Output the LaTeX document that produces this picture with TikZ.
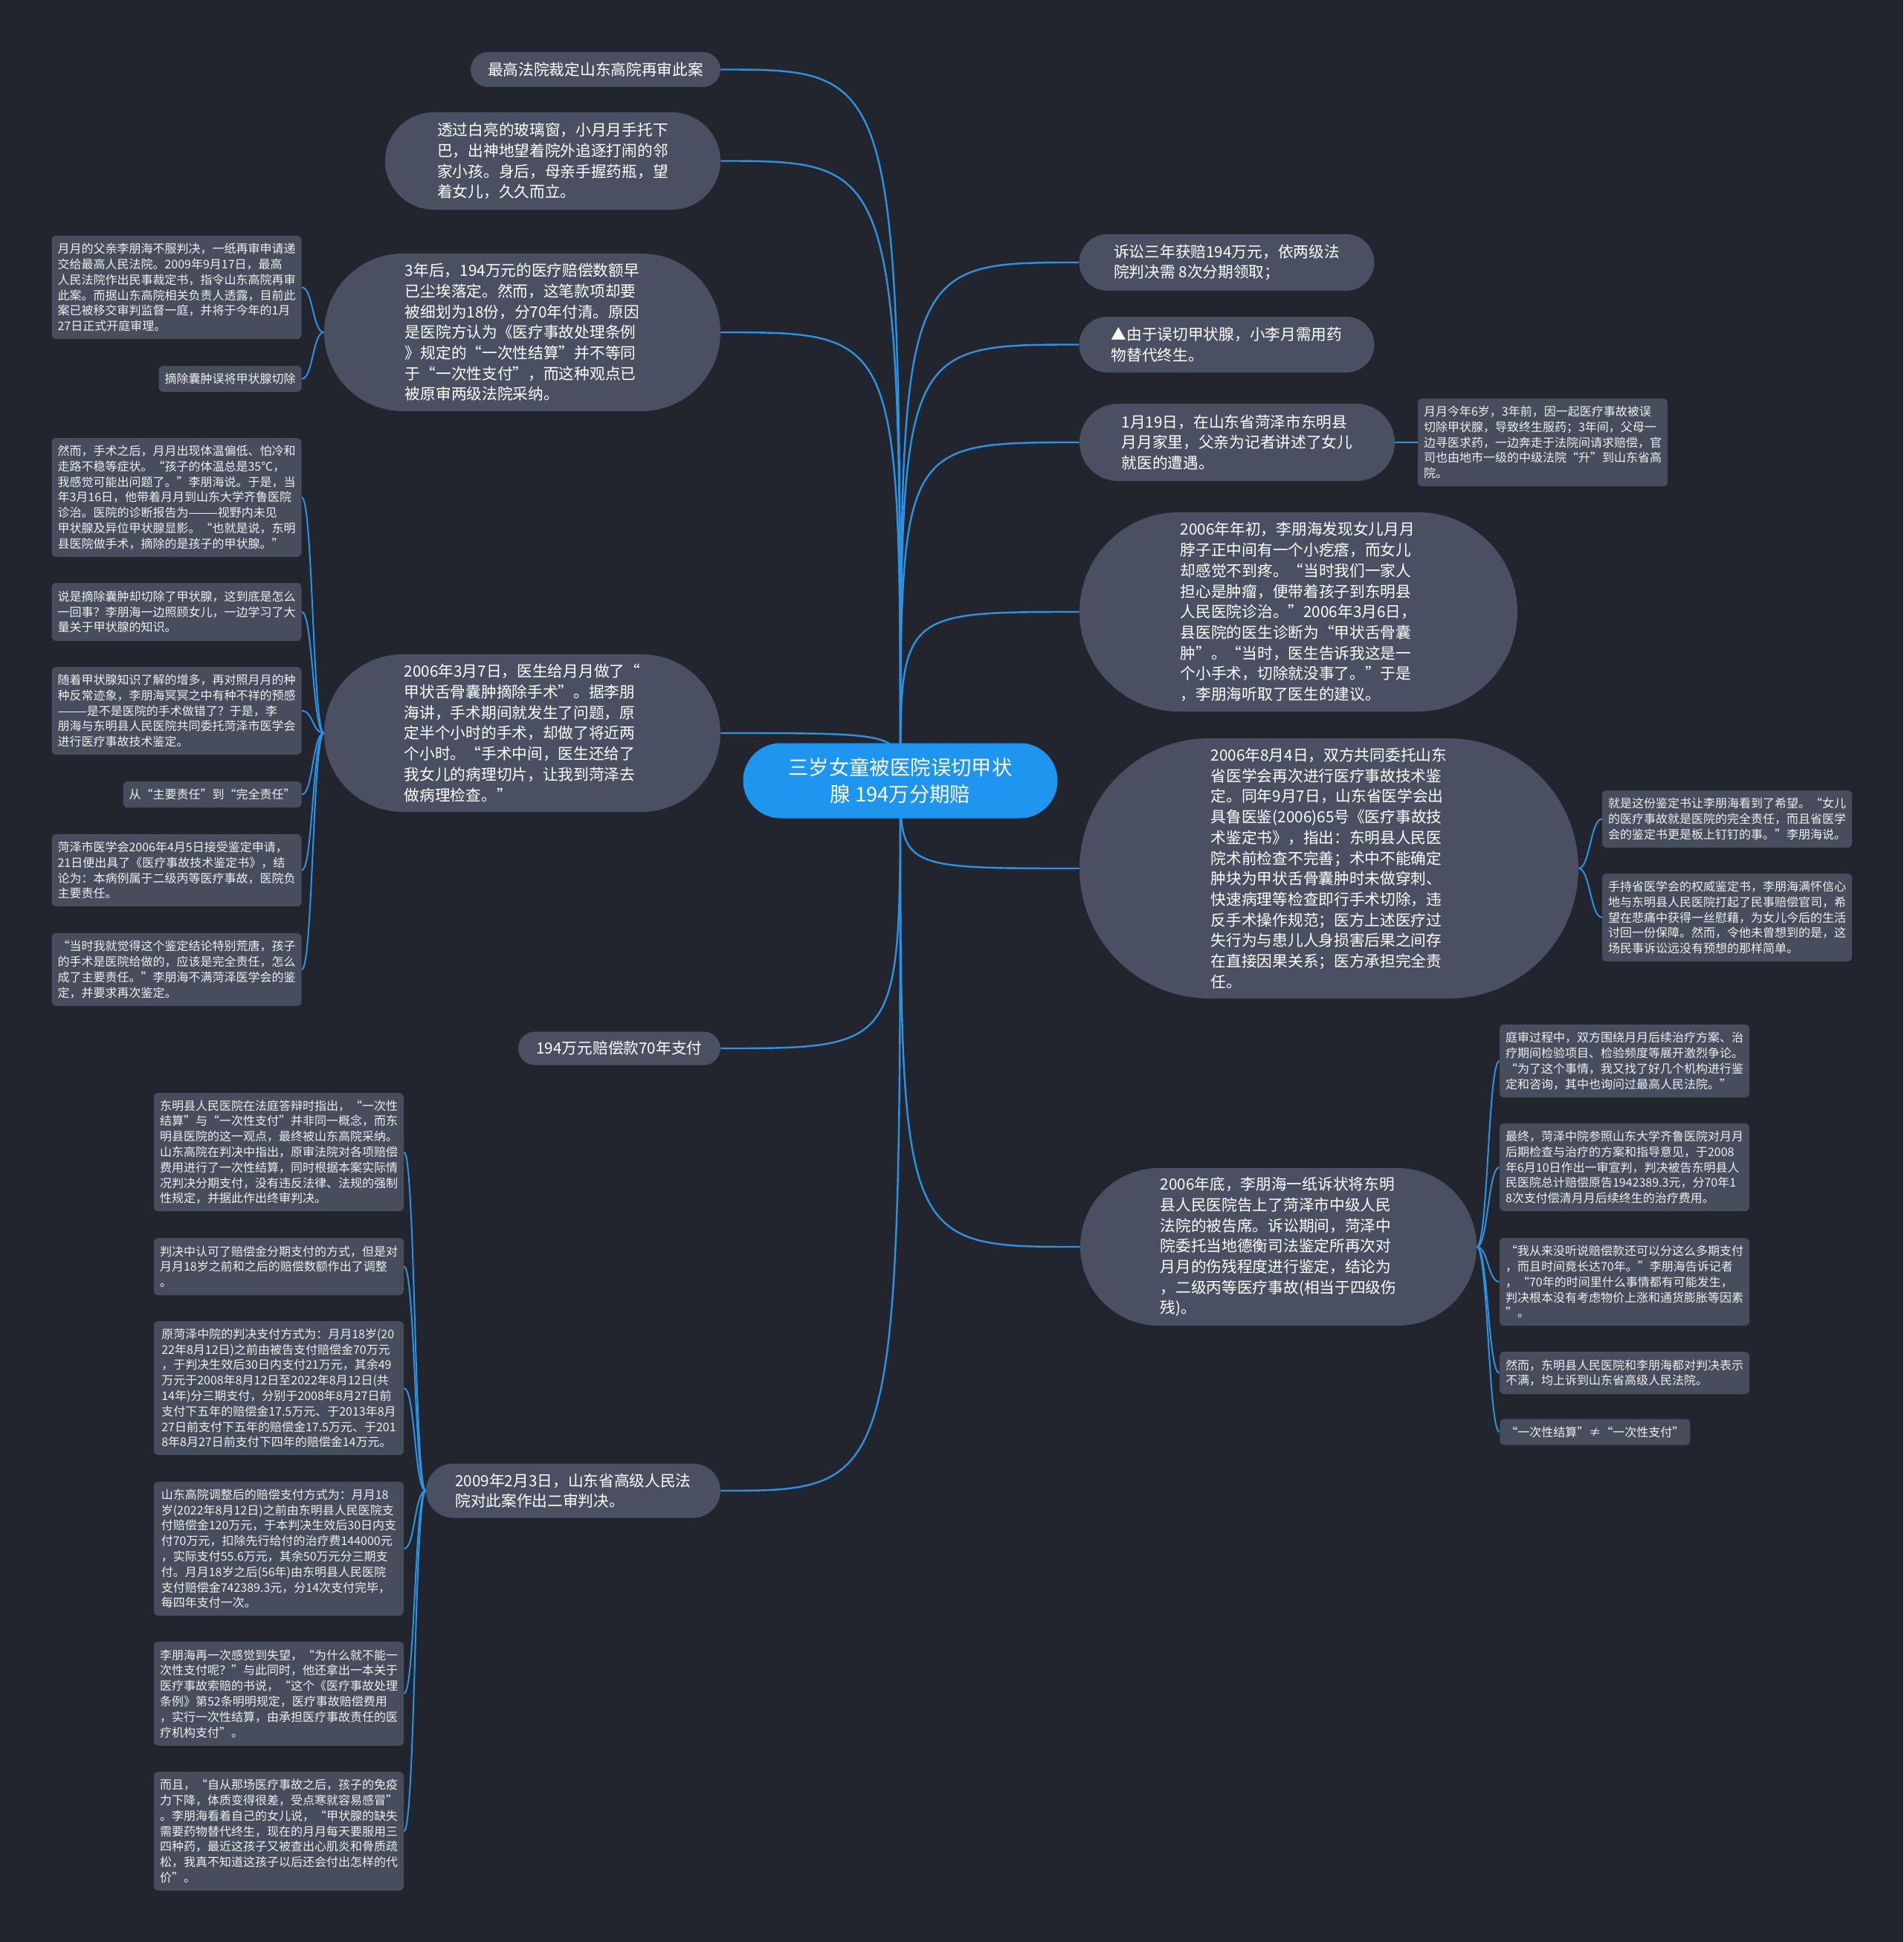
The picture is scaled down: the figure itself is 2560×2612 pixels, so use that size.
\documentclass[tikz,border=0pt]{standalone}
\usepackage{fontspec}
\setmainfont{Noto Sans CJK SC}
\usetikzlibrary{shapes.misc,backgrounds}
\definecolor{bgdark}{HTML}{22252E}
\definecolor{nodefill}{HTML}{4A5061}
\definecolor{leaffill}{HTML}{474D5C}
\definecolor{rootblue}{HTML}{1E95EF}
\definecolor{linkblue}{HTML}{2B93E3}
\definecolor{leaftext}{HTML}{F0F0F0}
\tikzset{
  rootnode/.style={
    shape=rounded rectangle, fill=rootblue, text=white,
    inner xsep=0pt, inner ysep=0pt, align=center,
    font=\fontsize{13.7}{18.3}\selectfont
  },
  mainnode/.style={
    shape=rounded rectangle, fill=nodefill, text=white,
    inner xsep=0pt, inner ysep=0pt, align=left,
    font=\fontsize{10.35}{13.85}\selectfont
  },
  leafnode/.style={
    rectangle, rounded corners=3pt, fill=leaffill, text=leaftext,
    inner xsep=4pt, inner ysep=0pt, align=left,
    font=\fontsize{8}{10.4}\selectfont
  },
  branch/.style={draw=linkblue, line width=1.2pt},
  twig/.style={draw=linkblue, line width=1pt}
}
\begin{document}
\begin{tikzpicture}[x=0.5pt,y=-0.5pt]
\useasboundingbox (0,0) rectangle (2560,2612);

% centre
\node[rootnode, minimum width=211.5pt, minimum height=50.5pt] (root) at (1211,1050)
  {三岁女童被医院误切甲状\\腺 194万分期赔};

% left side
\node[mainnode, minimum width=168pt, minimum height=23.5pt] (ruling) at (801,93.5)
  {最高法院裁定山东高院再审此案};
\node[mainnode, minimum width=225.5pt, minimum height=65.5pt] (window) at (743.5,216.5)
  {透过白亮的玻璃窗，小月月手托下\\巴，出神地望着院外追逐打闹的邻\\家小孩。身后，母亲手握药瓶，望\\着女儿，久久而立。};
\node[mainnode, minimum width=266.5pt, minimum height=106pt] (payment) at (702.5,447)
  {3年后，194万元的医疗赔偿数额早\\已尘埃落定。然而，这笔款项却要\\被细划为18份，分70年付清。原因\\是医院方认为《医疗事故处理条例\\》规定的“一次性结算”并不等同\\于“一次性支付”，而这种观点已\\被原审两级法院采纳。};
\node[mainnode, minimum width=266.5pt, minimum height=106pt] (surgery) at (702.5,986)
  {2006年3月7日，医生给月月做了“\\甲状舌骨囊肿摘除手术”。据李朋\\海讲，手术期间就发生了问题，原\\定半个小时的手术，却做了将近两\\个小时。“手术中间，医生还给了\\我女儿的病理切片，让我到菏泽去\\做病理检查。”};
\node[mainnode, minimum width=136pt, minimum height=22.5pt] (seventy) at (833,1410)
  {194万元赔偿款70年支付};
\node[mainnode, minimum width=198pt, minimum height=36.5pt] (retrial) at (771,2005)
  {2009年2月3日，山东省高级人民法\\院对此案作出二审判决。};

% right side
\node[mainnode, minimum width=198.5pt, minimum height=38pt] (award) at (1650,353)
  {诉讼三年获赔194万元，依两级法\\院判决需 8次分期领取；};
\node[mainnode, minimum width=198.5pt, minimum height=37.5pt] (drug) at (1650,463.5)
  {▲由于误切甲状腺，小李月需用药\\物替代终生。};
\node[mainnode, minimum width=212pt, minimum height=52pt] (visit) at (1664,595)
  {1月19日，在山东省菏泽市东明县\\月月家里，父亲为记者讲述了女儿\\就医的遭遇。};
\node[mainnode, minimum width=294.5pt, minimum height=134pt] (early) at (1746.5,823)
  {2006年年初，李朋海发现女儿月月\\脖子正中间有一个小疙瘩，而女儿\\却感觉不到疼。“当时我们一家人\\担心是肿瘤，便带着孩子到东明县\\人民医院诊治。”2006年3月6日，\\县医院的医生诊断为“甲状舌骨囊\\肿”。“当时，医生告诉我这是一\\个小手术，切除就没事了。”于是\\，李朋海听取了医生的建议。};
\node[mainnode, minimum width=335.5pt, minimum height=175pt] (appraisal) at (1787.5,1168)
  {2006年8月4日，双方共同委托山东\\省医学会再次进行医疗事故技术鉴\\定。同年9月7日，山东省医学会出\\具鲁医鉴(2006)65号《医疗事故技\\术鉴定书》，指出：东明县人民医\\院术前检查不完善；术中不能确定\\肿块为甲状舌骨囊肿时未做穿刺、\\快速病理等检查即行手术切除，违\\反手术操作规范；医方上述医疗过\\失行为与患儿人身损害后果之间存\\在直接因果关系；医方承担完全责\\任。};
\node[mainnode, minimum width=266.5pt, minimum height=106pt] (lawsuit) at (1719.5,1677)
  {2006年底，李朋海一纸诉状将东明\\县人民医院告上了菏泽市中级人民\\法院的被告席。诉讼期间，菏泽中\\院委托当地德衡司法鉴定所再次对\\月月的伤残程度进行鉴定，结论为\\，二级丙等医疗事故(相当于四级伤\\残)。};

% leaves of payment
\node[leafnode, minimum width=168pt, minimum height=69.5pt] (petition) at (237.5,386.5)
  {月月的父亲李朋海不服判决，一纸再审申请递\\交给最高人民法院。2009年9月17日，最高\\人民法院作出民事裁定书，指令山东高院再审\\此案。而据山东高院相关负责人透露，目前此\\案已被移交审判监督一庭，并将于今年的1月\\27日正式开庭审理。};
\node[leafnode, minimum height=17.5pt, anchor=east] (mistake) at (406,509.5)
  {摘除囊肿误将甲状腺切除};

% leaves of surgery
\node[leafnode, minimum width=168pt, minimum height=80pt] (symptoms) at (237.5,669)
  {然而，手术之后，月月出现体温偏低、怕冷和\\走路不稳等症状。“孩子的体温总是35℃，\\我感觉可能出问题了。”李朋海说。于是，当\\年3月16日，他带着月月到山东大学齐鲁医院\\诊治。医院的诊断报告为———视野内未见\\甲状腺及异位甲状腺显影。“也就是说，东明\\县医院做手术，摘除的是孩子的甲状腺。”};
\node[leafnode, minimum width=168pt, minimum height=39pt] (puzzle) at (237.5,823)
  {说是摘除囊肿却切除了甲状腺，这到底是怎么\\一回事？李朋海一边照顾女儿，一边学习了大\\量关于甲状腺的知识。};
\node[leafnode, minimum width=168pt, minimum height=59pt] (suspicion) at (237.5,956)
  {随着甲状腺知识了解的增多，再对照月月的种\\种反常迹象，李朋海冥冥之中有种不祥的预感\\———是不是医院的手术做错了？于是，李\\朋海与东明县人民医院共同委托菏泽市医学会\\进行医疗事故技术鉴定。};
\node[leafnode, minimum height=17.5pt, anchor=east] (blame) at (406,1068.5)
  {从“主要责任”到“完全责任”};
\node[leafnode, minimum width=168pt, minimum height=48.5pt] (heze) at (237.5,1170.5)
  {菏泽市医学会2006年4月5日接受鉴定申请，\\21日便出具了《医疗事故技术鉴定书》，结\\论为：本病例属于二级丙等医疗事故，医院负\\主要责任。};
\node[leafnode, minimum width=168pt, minimum height=49pt] (absurd) at (237.5,1304)
  {“当时我就觉得这个鉴定结论特别荒唐，孩子\\的手术是医院给做的，应该是完全责任，怎么\\成了主要责任。”李朋海不满菏泽医学会的鉴\\定，并要求再次鉴定。};

% leaves of retrial
\node[leafnode, minimum width=168pt, minimum height=79.5pt] (hospitalview) at (375,1549.5)
  {东明县人民医院在法庭答辩时指出，“一次性\\结算”与“一次性支付”并非同一概念，而东\\明县医院的这一观点，最终被山东高院采纳。\\山东高院在判决中指出，原审法院对各项赔偿\\费用进行了一次性结算，同时根据本案实际情\\况判决分期支付，没有违反法律、法规的强制\\性规定，并据此作出终审判决。};
\node[leafnode, minimum width=168pt, minimum height=38.5pt] (adjust) at (375,1703.5)
  {判决中认可了赔偿金分期支付的方式，但是对\\月月18岁之前和之后的赔偿数额作出了调整\\。};
\node[leafnode, minimum width=168pt, minimum height=90pt] (firstplan) at (375,1867)
  {原菏泽中院的判决支付方式为：月月18岁(20\\22年8月12日)之前由被告支付赔偿金70万元\\，于判决生效后30日内支付21万元，其余49\\万元于2008年8月12日至2022年8月12日(共\\14年)分三期支付，分别于2008年8月27日前\\支付下五年的赔偿金17.5万元、于2013年8月\\27日前支付下五年的赔偿金17.5万元、于201\\8年8月27日前支付下四年的赔偿金14万元。};
\node[leafnode, minimum width=168pt, minimum height=90pt] (secondplan) at (375,2083)
  {山东高院调整后的赔偿支付方式为：月月18\\岁(2022年8月12日)之前由东明县人民医院支\\付赔偿金120万元，于本判决生效后30日内支\\付70万元，扣除先行给付的治疗费144000元\\，实际支付55.6万元，其余50万元分三期支\\付。月月18岁之后(56年)由东明县人民医院\\支付赔偿金742389.3元，分14次支付完毕，\\每四年支付一次。};
\node[leafnode, minimum width=168pt, minimum height=70pt] (disappoint) at (375,2278)
  {李朋海再一次感觉到失望，“为什么就不能一\\次性支付呢？”与此同时，他还拿出一本关于\\医疗事故索赔的书说，“这个《医疗事故处理\\条例》第52条明明规定，医疗事故赔偿费用\\，实行一次性结算，由承担医疗事故责任的医\\疗机构支付”。};
\node[leafnode, minimum width=168pt, minimum height=80pt] (illness) at (375,2463)
  {而且，“自从那场医疗事故之后，孩子的免疫\\力下降，体质变得很差，受点寒就容易感冒”\\。李朋海看着自己的女儿说，“甲状腺的缺失\\需要药物替代终生，现在的月月每天要服用三\\四种药，最近这孩子又被查出心肌炎和骨质疏\\松，我真不知道这孩子以后还会付出怎样的代\\价”。};

% leaves on the right
\node[leafnode, minimum width=168pt, minimum height=59pt] (background) at (2075,595)
  {月月今年6岁，3年前，因一起医疗事故被误\\切除甲状腺，导致终生服药；3年间，父母一\\边寻医求药，一边奔走于法院间请求赔偿，官\\司也由地市一级的中级法院“升”到山东省高\\院。};
\node[leafnode, minimum width=168pt, minimum height=38.5pt] (hope) at (2323,1101.5)
  {就是这份鉴定书让李朋海看到了希望。“女儿\\的医疗事故就是医院的完全责任，而且省医学\\会的鉴定书更是板上钉钉的事。”李朋海说。};
\node[leafnode, minimum width=168pt, minimum height=59pt] (civilsuit) at (2323,1234)
  {手持省医学会的权威鉴定书，李朋海满怀信心\\地与东明县人民医院打起了民事赔偿官司，希\\望在悲痛中获得一丝慰藉，为女儿今后的生活\\讨回一份保障。然而，令他未曾想到的是，这\\场民事诉讼远没有预想的那样简单。};
\node[leafnode, minimum width=168pt, minimum height=49pt] (debate) at (2185,1427)
  {庭审过程中，双方围绕月月后续治疗方案、治\\疗期间检验项目、检验频度等展开激烈争论。\\“为了这个事情，我又找了好几个机构进行鉴\\定和咨询，其中也询问过最高人民法院。”};
\node[leafnode, minimum width=168pt, minimum height=59pt] (verdict) at (2185,1570)
  {最终，菏泽中院参照山东大学齐鲁医院对月月\\后期检查与治疗的方案和指导意见，于2008\\年6月10日作出一审宣判，判决被告东明县人\\民医院总计赔偿原告1942389.3元，分70年1\\8次支付偿清月月后续终生的治疗费用。};
\node[leafnode, minimum width=168pt, minimum height=59pt] (seventyyears) at (2185,1724)
  {“我从来没听说赔偿款还可以分这么多期支付\\，而且时间竟长达70年。”李朋海告诉记者\\，“70年的时间里什么事情都有可能发生，\\判决根本没有考虑物价上涨和通货膨胀等因素\\”。};
\node[leafnode, minimum width=168pt, minimum height=28.5pt] (appeal) at (2185,1846.5)
  {然而，东明县人民医院和李朋海都对判决表示\\不满，均上诉到山东省高级人民法院。};
\node[leafnode, minimum height=17.5pt, anchor=west] (notequal) at (2017,1926)
  {“一次性结算”≠“一次性支付”};

\begin{scope}[on background layer]
  \fill[bgdark] (0,0) rectangle (2560,2612);
  % centre to branches
  \foreach \n in {ruling,window,payment,surgery,seventy,retrial}
    \draw[branch] (root.center) .. controls (root.center |- \n.east) .. (\n.east);
  \foreach \n in {award,drug,visit,early,appraisal,lawsuit}
    \draw[branch] (root.center) .. controls (root.center |- \n.west) .. (\n.west);
  % branches to leaves
  \foreach \l in {petition,mistake}
    \draw[twig] (payment.west) .. controls +(-15,0) and +(15,0) .. (\l.east);
  \foreach \l in {symptoms,puzzle,suspicion,blame,heze,absurd}
    \draw[twig] (surgery.west) .. controls +(-15,0) and +(15,0) .. (\l.east);
  \foreach \l in {hospitalview,adjust,firstplan,secondplan,disappoint,illness}
    \draw[twig] (retrial.west) .. controls +(-15,0) and +(15,0) .. (\l.east);
  \draw[twig] (visit.east) -- (background.west);
  \foreach \l in {hope,civilsuit}
    \draw[twig] (appraisal.east) .. controls +(15,0) and +(-15,0) .. (\l.west);
  \foreach \l in {debate,verdict,seventyyears,appeal,notequal}
    \draw[twig] (lawsuit.east) .. controls +(15,0) and +(-15,0) .. (\l.west);
\end{scope}
\end{tikzpicture}
\end{document}
